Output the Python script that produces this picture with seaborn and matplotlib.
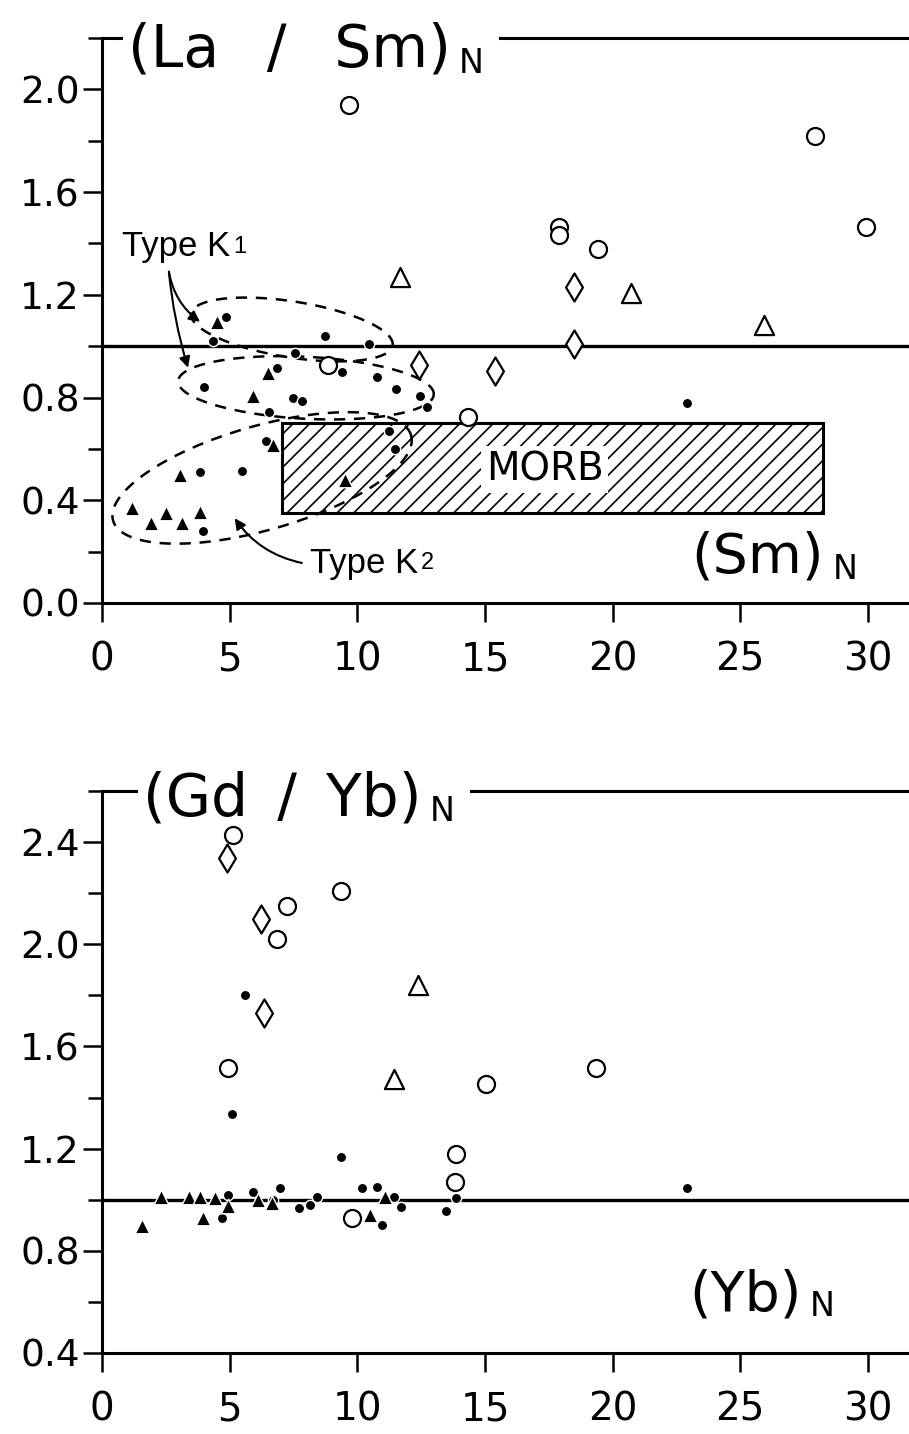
import numpy as np
import pandas as pd
import seaborn as sns
import matplotlib.pyplot as plt
from matplotlib.patches import Rectangle
from matplotlib.ticker import MultipleLocator, FormatStrFormatter

# upper panel: (La/Sm)N against (Sm)N
la_open_circle_x = [9.67, 27.93, 29.93, 17.9, 17.9, 19.43, 14.34, 8.85]
la_open_circle_y = [1.94, 1.82, 1.466, 1.466, 1.431, 1.38, 0.725, 0.928]
la_open_diamond_x = [18.5, 18.5, 15.4, 12.42]
la_open_diamond_y = [1.23, 1.01, 0.905, 0.928]
la_open_triangle_x = [20.72, 25.93, 11.67]
la_open_triangle_y = [1.209, 1.084, 1.27]
la_filled_circle_x = [4.86, 4.35, 8.73, 10.46, 7.56, 6.85, 9.4, 10.77, 4.0, 11.5, 7.48, 7.83,
                      12.46, 12.73, 6.54, 6.42, 11.24, 11.48, 5.48, 3.84, 3.96, 22.9]
la_filled_circle_y = [1.115, 1.02, 1.04, 1.01, 0.975, 0.915, 0.90, 0.88, 0.84, 0.835, 0.80, 0.785,
                      0.805, 0.765, 0.745, 0.63, 0.67, 0.60, 0.515, 0.51, 0.28, 0.78]
la_filled_triangle_x = [4.5, 5.9, 3.06, 1.17, 1.92, 2.5, 3.13, 3.84, 9.52, 6.5, 6.7]
la_filled_triangle_y = [1.095, 0.805, 0.50, 0.37, 0.31, 0.35, 0.31, 0.355, 0.479, 0.895, 0.615]
morb_sm = [7.05, 28.25]
morb_lasm = [0.35, 0.70]

# lower panel: (Gd/Yb)N against (Yb)N
gd_open_circle_x = [5.13, 7.25, 6.85, 9.36, 4.94, 15.04, 19.35, 13.87, 13.83, 9.8]
gd_open_circle_y = [2.427, 2.15, 2.02, 2.21, 1.515, 1.453, 1.515, 1.18, 1.07, 0.93]
gd_open_diamond_x = [4.9, 6.23, 6.35]
gd_open_diamond_y = [2.337, 2.10, 1.73]
gd_open_triangle_x = [12.38, 11.44]
gd_open_triangle_y = [1.84, 1.472]
gd_filled_circle_x = [5.6, 5.09, 9.36, 22.9, 4.93, 4.7, 5.92, 6.97, 7.72, 8.15, 8.42, 10.18,
                      10.77, 11.44, 11.7, 10.97, 13.47, 13.87, 6.7]
gd_filled_circle_y = [1.80, 1.335, 1.167, 1.046, 1.02, 0.93, 1.03, 1.045, 0.967, 0.98, 1.01, 1.045,
                      1.05, 1.01, 0.97, 0.90, 0.956, 1.007, 1.0]
gd_filled_triangle_x = [1.56, 2.3, 3.4, 3.97, 3.84, 4.43, 4.93, 6.1, 6.66, 10.5, 11.08]
gd_filled_triangle_y = [0.897, 1.01, 1.01, 0.93, 1.01, 1.005, 0.975, 0.999, 0.987, 0.94, 1.01]

sns.set_style("ticks", rc={"axes.edgecolor": "black", "text.color": "black",
                           "xtick.color": "black", "ytick.color": "black"})
plt.rcParams["font.family"] = ["DejaVu Sans"]
plt.rcParams["hatch.linewidth"] = 1.2
NARROW = ["Liberation Sans", "DejaVu Sans"]

STYLES = {
    "open_circle": dict(marker="o", s=150, facecolor="white", edgecolor="black", linewidth=1.6),
    "open_diamond": dict(marker="d", s=204, facecolor="white", edgecolor="black", linewidth=1.6),
    "open_triangle": dict(marker="^", s=190, facecolor="white", edgecolor="black", linewidth=1.6),
    "filled_circle": dict(marker="o", s=55, facecolor="black", edgecolor="white", linewidth=1.0),
    "filled_triangle": dict(marker="^", s=110, facecolor="black", edgecolor="white", linewidth=1.0),
}
XMAX = 31.61
EN = "\u2002"


def draw_points(ax, x, y, kind):
    df = pd.DataFrame({"x": x, "y": y})
    sns.scatterplot(data=df, x="x", y="y", ax=ax, zorder=7, **STYLES[kind])


def setup_axes(ax, ymin, ymax):
    ax.set_xlim(0, XMAX)
    ax.set_ylim(ymin, ymax)
    ax.set(xlabel="", ylabel="")
    ax.xaxis.set_major_locator(MultipleLocator(5))
    ax.yaxis.set_major_locator(MultipleLocator(0.4))
    ax.yaxis.set_minor_locator(MultipleLocator(0.2))
    ax.yaxis.set_major_formatter(FormatStrFormatter("%.1f"))
    ax.spines["right"].set_visible(False)
    for s in ["left", "bottom", "top"]:
        ax.spines[s].set_linewidth(2.2)
    ax.tick_params(axis="x", which="major", direction="out", length=14, width=1.8,
                   labelsize=28, pad=13, top=False)
    ax.tick_params(axis="y", which="major", direction="out", length=14, width=1.8,
                   labelsize=27, pad=2, right=False)
    ax.tick_params(axis="y", which="minor", direction="out", length=10, width=1.8, right=False)
    ax.axhline(1.0, color="black", lw=2.4, zorder=2)


def axis_label(ax, x, y, text, size=40, cover=False):
    box = dict(boxstyle="square,pad=0.08", fc="white", ec="none") if cover else None
    t = ax.text(x, y, text, fontsize=size, va="baseline", ha="left", zorder=6, bbox=box)
    nbox = dict(boxstyle="square,pad=0.45", fc="white", ec="none") if cover else None
    ax.annotate("N", xy=(1, 0), xycoords=t, xytext=(6, -1), textcoords="offset points",
                fontsize=24, va="bottom", ha="left", zorder=5.5, bbox=nbox)


def dashed_loop(ax, cx, cy, a_px, b_px, angle):
    # ellipse laid out in pixels so the tilt survives the unequal axis scales
    pos = ax.get_position()
    x0, x1 = ax.get_xlim()
    y0, y1 = ax.get_ylim()
    sx = pos.width * fig.get_figwidth() * fig.dpi / (x1 - x0)
    sy = pos.height * fig.get_figheight() * fig.dpi / (y1 - y0)
    t = np.linspace(0, 2 * np.pi, 240)
    th = np.deg2rad(angle)
    dx = a_px * np.cos(t) * np.cos(th) - b_px * np.sin(t) * np.sin(th)
    dy = a_px * np.cos(t) * np.sin(th) + b_px * np.sin(t) * np.cos(th)
    ax.plot(cx + dx / sx, cy + dy / sy, color="black", lw=1.8, ls=(0, (4.5, 3.5)), zorder=3)


def type_label(ax, x, y, sub):
    t = ax.text(x, y, "Type K", fontsize=25, family=NARROW, va="baseline", ha="left", zorder=6)
    ax.annotate(sub, xy=(1, 0), xycoords=t, xytext=(2, 4), textcoords="offset points",
                fontsize=17, family=NARROW, va="bottom", ha="left", zorder=6)


fig = plt.figure(figsize=(9.09, 14.34), dpi=100)
ax_top = fig.add_axes([0.1122, 0.5795, 0.8878, 0.394])
ax_bot = fig.add_axes([0.1122, 0.0565, 0.8878, 0.3919])

# ---- upper panel
draw_points(ax_top, la_open_circle_x, la_open_circle_y, "open_circle")
draw_points(ax_top, la_open_diamond_x, la_open_diamond_y, "open_diamond")
draw_points(ax_top, la_open_triangle_x, la_open_triangle_y, "open_triangle")
draw_points(ax_top, la_filled_circle_x, la_filled_circle_y, "filled_circle")
draw_points(ax_top, la_filled_triangle_x, la_filled_triangle_y, "filled_triangle")
setup_axes(ax_top, 0, 2.2)

ax_top.add_patch(Rectangle((morb_sm[0], morb_lasm[0]), morb_sm[1] - morb_sm[0],
                           morb_lasm[1] - morb_lasm[0], facecolor="white", edgecolor="black",
                           hatch="//", lw=2.2, zorder=1.5))
ax_top.text(sum(morb_sm) / 2 - 0.3, sum(morb_lasm) / 2 - 0.005, "MORB", fontsize=28,
            ha="center", va="center", zorder=4,
            bbox=dict(boxstyle="square,pad=0.12", fc="white", ec="none"))

dashed_loop(ax_top, 7.44, 1.065, 102, 28, -9)
dashed_loop(ax_top, 7.99, 0.838, 128, 31, -3)
dashed_loop(ax_top, 6.27, 0.487, 155, 52, 16)

type_label(ax_top, 0.78, 1.35, "1")
type_label(ax_top, 8.15, 0.117, "2")
arrow = dict(arrowstyle="-|>", color="black", lw=1.5, mutation_scale=16, shrinkA=0, shrinkB=0)
ax_top.annotate("", xy=(3.84, 1.095), xytext=(2.62, 1.29),
                arrowprops=dict(arrow, connectionstyle="arc3,rad=0.2"))
ax_top.annotate("", xy=(3.37, 0.916), xytext=(2.62, 1.29),
                arrowprops=dict(arrow, connectionstyle="arc3,rad=0.05"))
ax_top.annotate("", xy=(5.2, 0.33), xytext=(7.83, 0.156),
                arrowprops=dict(arrow, connectionstyle="arc3,rad=-0.2"))

axis_label(ax_top, 1.02, 2.09, f"(La{EN} / {EN}Sm)", size=42, cover=True)
axis_label(ax_top, 23.1, 0.117, "(Sm)")

# ---- lower panel
draw_points(ax_bot, gd_open_circle_x, gd_open_circle_y, "open_circle")
draw_points(ax_bot, gd_open_diamond_x, gd_open_diamond_y, "open_diamond")
draw_points(ax_bot, gd_open_triangle_x, gd_open_triangle_y, "open_triangle")
draw_points(ax_bot, gd_filled_circle_x, gd_filled_circle_y, "filled_circle")
draw_points(ax_bot, gd_filled_triangle_x, gd_filled_triangle_y, "filled_triangle")
setup_axes(ax_bot, 0.4, 2.6)

axis_label(ax_bot, 1.6, 2.506, f"(Gd{EN}/{EN}Yb)", size=42, cover=True)
axis_label(ax_bot, 23.0, 0.568, "(Yb)")

fig.savefig("out.png", dpi=100, facecolor="white")
